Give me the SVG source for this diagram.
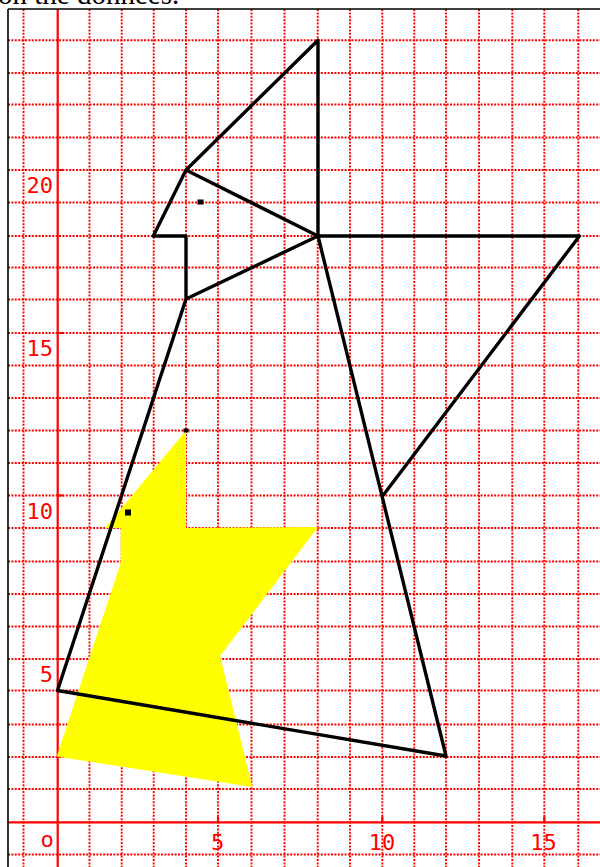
<svg xmlns="http://www.w3.org/2000/svg" width="600" height="867" viewBox="0 0 600 867">
<style>
.dot{stroke:#ff0000;stroke-width:1.9;stroke-dasharray:2 1.4;fill:none}
.axis{stroke:#ff0000;stroke-width:2.2;fill:none}
.lbl{font-family:"DejaVu Sans Mono","Liberation Mono",monospace;font-size:22px;fill:#ff0000}
.fig{stroke:#000;stroke-width:3.4;fill:none;stroke-linejoin:round;stroke-linecap:round}
</style>
<rect x="0" y="0" width="600" height="867" fill="#fff"/>
<text x="-2" y="4" font-family="Liberation Serif, serif" font-size="29" fill="#000">on the données.</text>
<g id="grid">
<path class="dot" d="M23.5,9V867M89.5,9V867M121.7,9V867M153.7,9V867M186,9V867M218,9V867M251.5,9V867M284.5,9V867M317.7,9V867M350,9V867M382.3,9V867M414.3,9V867M446,9V867M479,9V867M512.3,9V867M544.3,9V867M578.3,9V867"/>
<path class="dot" d="M8,854.5H600M8,789H600M8,757H600M8,724.5H600M8,690.5H600M8,659H600M8,626.5H600M8,594H600M8,561.5H600M8,528H600M8,495.5H600M8,463H600M8,430.5H600M8,398H600M8,365.5H600M8,333H600M8,299.5H600M8,267.5H600M8,236H600M8,202.5H600M8,170H600M8,137.5H600M8,104.5H600M8,73H600M8,40.3H600"/>
</g>
<g id="axes">
<path class="axis" d="M57.7,9V867M8,822.3H600"/>
<path class="axis" d="M57.7,659H64M57.7,495.5H64M57.7,333H64M57.7,170H64M218,816.5V822.3M382.3,816.5V822.3M544.3,816.5V822.3"/>
<path d="M8,9V867M8,9H600" stroke="#000" stroke-width="1.6" fill="none"/>
</g>
<g id="labels">
<text class="lbl" x="53" y="682" text-anchor="end">5</text>
<text class="lbl" x="53" y="518.5" text-anchor="end">10</text>
<text class="lbl" x="53" y="356" text-anchor="end">15</text>
<text class="lbl" x="53" y="193" text-anchor="end">20</text>
<text class="lbl" x="47" y="847" text-anchor="middle">o</text>
<text class="lbl" x="217.5" y="850" text-anchor="middle">5</text>
<text class="lbl" x="382" y="850" text-anchor="middle">10</text>
<text class="lbl" x="543.5" y="850" text-anchor="middle">15</text>
</g>
<g id="yellow-shape">
<polygon points="186,430.5 186,528 318,527 220,656 252.3,787 56.7,756.5 120.7,563 120.7,528 105,528" fill="#ffff00"/>
</g>
<g id="connectors">
<path class="fig" d="M318,40.3L186,170L153.3,236L186,236L186,299L318,236L186,170M318,40.3L318,236L579.5,236L383,495.5M318,236L446,756L57.5,690.5L186,299"/>
</g>
<g id="points">
<rect x="197.5" y="199.5" width="6" height="5" fill="#000"/>
<rect x="125" y="509.5" width="6" height="6" fill="#000"/>
<rect x="183.5" y="428.5" width="5" height="4" fill="#000"/>
</g>
</svg>
